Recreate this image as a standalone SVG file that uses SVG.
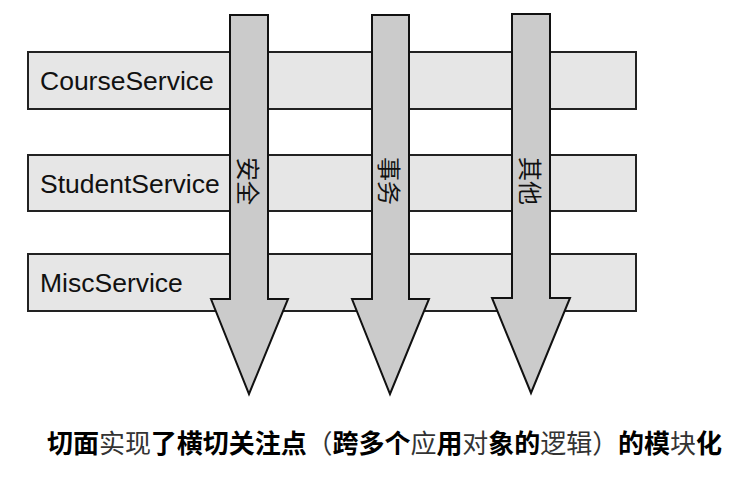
<svg xmlns="http://www.w3.org/2000/svg" width="740" height="481" viewBox="0 0 740 481">
<style>
.bar{fill:#e6e6e6;stroke:#222;stroke-width:2}
.arrow{fill:#cbcbcb;stroke:#111;stroke-width:2;stroke-linejoin:miter}
.lbl{font-family:"Liberation Sans",Arial,sans-serif;font-size:26.5px;fill:#111}
.vt{font-family:"Noto Sans CJK SC","Noto Sans",sans-serif;font-size:24px;fill:#111}
.cap{font-family:"Noto Sans CJK SC",sans-serif;font-size:26px;fill:#000}
.b{font-weight:bold}
.n{font-weight:normal;fill:#333}
</style>
<rect width="740" height="481" fill="#fff"/>
<g id="CourseService">
<rect class="bar" x="28" y="52" width="608" height="57"/>
<text class="lbl" x="40" y="90">CourseService</text>
</g>
<g id="StudentService">
<rect class="bar" x="28" y="155" width="608" height="56"/>
<text class="lbl" x="40" y="193">StudentService</text>
</g>
<g id="MiscService">
<rect class="bar" x="28" y="254" width="608" height="57"/>
<text class="lbl" x="40" y="292">MiscService</text>
</g>
<g id="connectors">
<g id="security">
<polygon class="arrow" points="230,15 268,15 268,299 288,299 249,394 211,299 230,299"/>
<text class="vt" transform="translate(249,181) rotate(90)" text-anchor="middle" dominant-baseline="central">安全</text>
</g>
<g id="transaction">
<polygon class="arrow" points="372,15 409,15 409,299 429,299 390,394 352,299 372,299"/>
<text class="vt" transform="translate(390,181) rotate(90)" text-anchor="middle" dominant-baseline="central">事务</text>
</g>
<g id="other">
<polygon class="arrow" points="512,14 550,14 550,298 570,298 531,393 492,298 512,298"/>
<text class="vt" transform="translate(531,181) rotate(90)" text-anchor="middle" dominant-baseline="central">其他</text>
</g>
</g>
<text class="cap" x="47" y="453" textLength="675" lengthAdjust="spacing"><tspan class="b">切面</tspan><tspan class="n">实现</tspan><tspan class="b">了横切关注点</tspan><tspan class="n">（</tspan><tspan class="b">跨多个</tspan><tspan class="n">应</tspan><tspan class="b">用</tspan><tspan class="n">对</tspan><tspan class="b">象的</tspan><tspan class="n">逻辑）</tspan><tspan class="b">的模</tspan><tspan class="n">块</tspan><tspan class="b">化</tspan></text>
</svg>
